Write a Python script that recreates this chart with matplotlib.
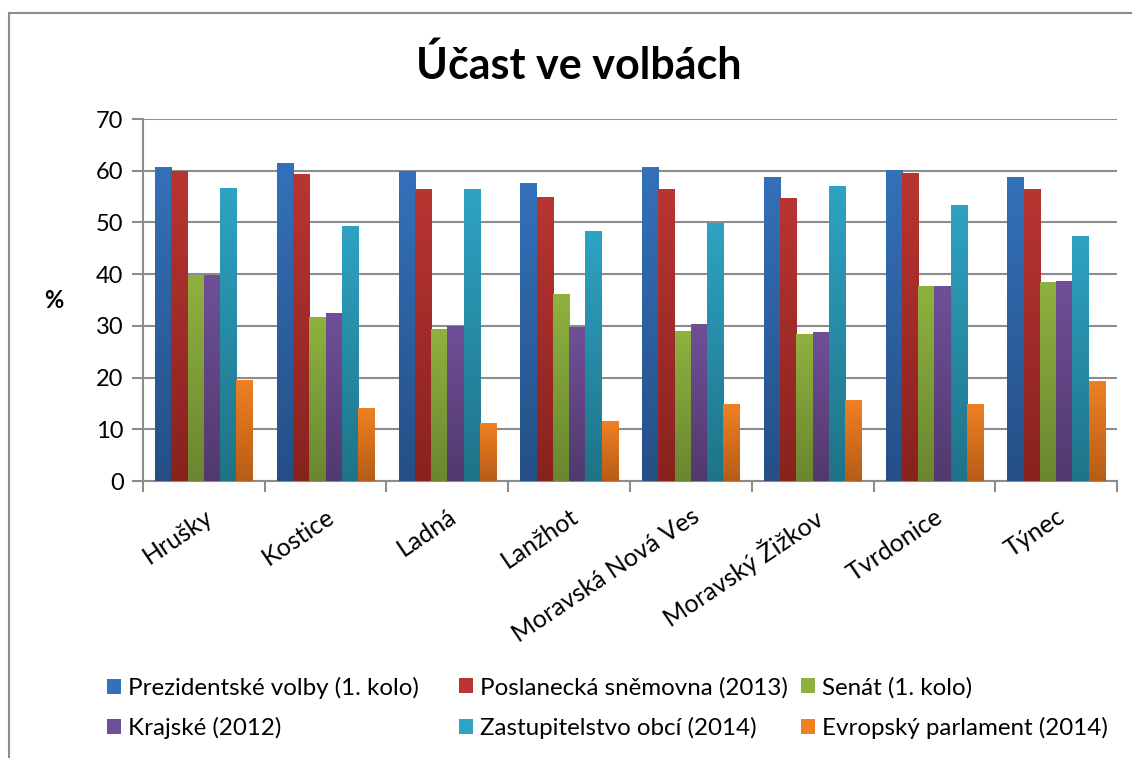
import numpy as np
import matplotlib
matplotlib.use('Agg')
from matplotlib import pyplot as plt
from matplotlib.colors import LinearSegmentedColormap
from matplotlib.lines import Line2D
from matplotlib.patches import Patch

plt.rcParams['font.family'] = ['Lato', 'DejaVu Sans']

obce = ['Hrušky', 'Kostice', 'Ladná', 'Lanžhot', 'Moravská Nová Ves',
        'Moravský Žižkov', 'Tvrdonice', 'Týnec']
serie = ['Prezidentské volby (1. kolo)', 'Poslanecká sněmovna (2013)',
         'Senát (1. kolo)', 'Krajské (2012)', 'Zastupitelstvo obcí (2014)',
         'Evropský parlament (2014)']

prezident = [60.7, 61.5, 59.9, 57.6, 60.7, 58.8, 60.1, 58.8]
snemovna = [59.9, 59.3, 56.4, 54.9, 56.4, 54.7, 59.5, 56.4]
senat = [39.8, 31.8, 29.3, 36.1, 29.1, 28.5, 37.8, 38.4]
krajske = [39.8, 32.4, 29.9, 29.7, 30.3, 28.9, 37.8, 38.6]
obecni = [56.6, 49.3, 56.4, 48.3, 49.8, 57.0, 53.3, 47.3]
evropske = [19.6, 14.2, 11.2, 11.6, 14.9, 15.7, 14.9, 19.4]
hodnoty = [prezident, snemovna, senat, krajske, obecni, evropske]

# (top, bottom) gradient colours per series, Excel style
barvy = [('#3471BA', '#254F85'), ('#B93532', '#88221F'), ('#8FB23F', '#6A8630'),
         ('#6F5097', '#51396D'), ('#2EA3C3', '#1F7388'), ('#EF8123', '#B75C17')]

fig = plt.figure(figsize=(11.32, 7.58), dpi=100)
ax = fig.add_axes([0.1263, 0.3654, 0.8605, 0.4776])

n = len(serie)
w = 0.8 / n
x = np.arange(len(obce))
grad = np.linspace(0, 1, 256).reshape(-1, 1)
for i, (vals, (top, bot)) in enumerate(zip(hodnoty, barvy)):
    bars = ax.bar(x - 0.4 + w * (i + 0.5), vals, w, color=top, zorder=2,
                  linewidth=0)
    cmap = LinearSegmentedColormap.from_list('g%d' % i, [bot, top])
    for b in bars:
        bx, by = b.get_x(), b.get_y()
        bw, bh = b.get_width(), b.get_height()
        im = ax.imshow(grad, extent=[bx, bx + bw, by, by + bh], origin='lower',
                       aspect='auto', cmap=cmap, zorder=3)
        im.set_clip_path(b)

ax.set_xlim(-0.5, len(obce) - 0.5)
ax.set_ylim(0, 70)
ax.set_yticks(range(0, 71, 10))
ax.yaxis.grid(True, color='#8c8c8c', linewidth=1.5, zorder=0)
ax.set_axisbelow(True)

for s in ['top', 'right']:
    ax.spines[s].set_visible(False)
for s in ['left', 'bottom']:
    ax.spines[s].set_color('#8c8c8c')
    ax.spines[s].set_linewidth(1.5)

ax.set_xticks(x)
ax.set_xticks(np.arange(len(obce) + 1) - 0.5, minor=True)
ax.tick_params(axis='x', which='major', length=0, pad=17)
ax.tick_params(axis='x', which='minor', length=8, width=1.5, color='#8c8c8c',
               direction='out')
ax.tick_params(axis='y', length=8, width=1.5, color='#8c8c8c', labelsize=17,
               pad=6)
ax.set_xticklabels(obce, rotation=34, ha='right', va='top',
                   rotation_mode='anchor', fontsize=18)

ax.set_ylabel('%', rotation=0, fontsize=17, fontweight='bold', labelpad=30,
              va='center')

fig.text(0.511, 0.914, 'Účast ve volbách', ha='center', va='center',
         fontsize=31, fontweight='bold')

# legend: three columns placed like Excel does it
handles = [Patch(facecolor=c[0], edgecolor='none') for c in barvy]
sloupce = [[0, 3], [1, 4], [2, 5]]
leg_x = [107, 459, 801]
for xs, idx in zip(leg_x, sloupce):
    leg = fig.legend([handles[k] for k in idx], [serie[k] for k in idx],
                     loc='center left', bbox_to_anchor=(xs / 1132, 0.066),
                     frameon=False, fontsize=17.4, handlelength=0.58,
                     handleheight=0.58, handletextpad=0.28, labelspacing=0.76,
                     borderpad=0, borderaxespad=0)

# chart area border
fig.add_artist(Line2D([9 / 1132, 1], [1 - 13 / 758] * 2, color='#8c8c8c',
                      lw=1.5, transform=fig.transFigure))
fig.add_artist(Line2D([9 / 1132] * 2, [0, 1 - 13 / 758], color='#8c8c8c',
                      lw=1.5, transform=fig.transFigure))

fig.savefig('out.png', dpi=100)
